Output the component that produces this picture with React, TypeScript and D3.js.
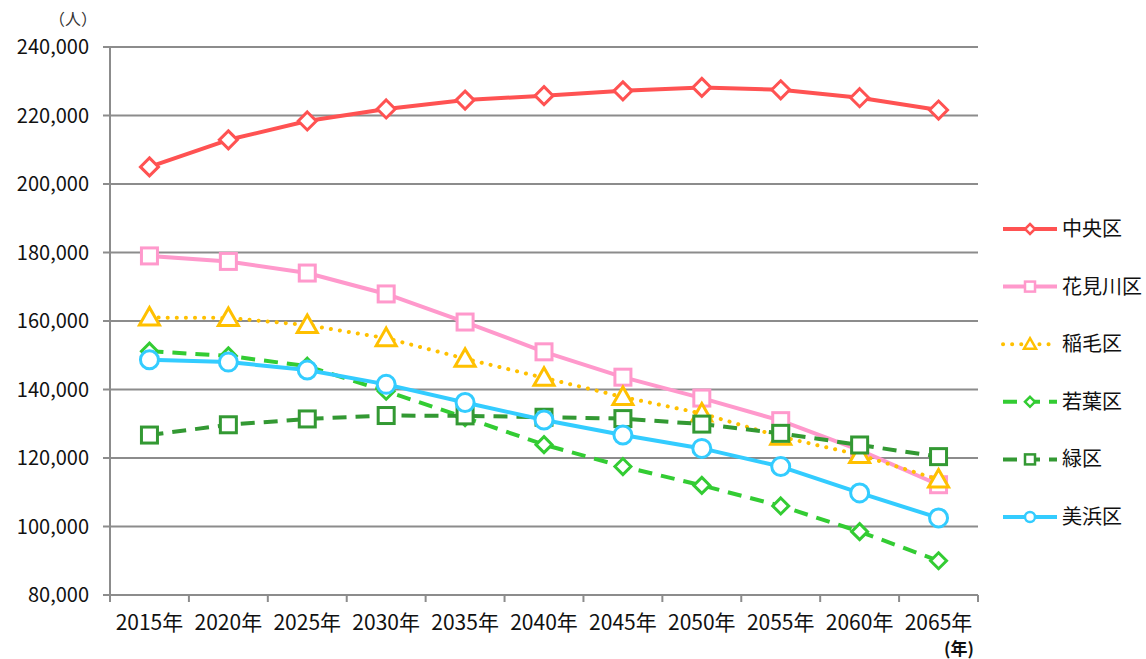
import * as d3 from "d3";

const WIDTH = 1146;
const HEIGHT = 659;
const MARGIN = { top: 47, right: 168, bottom: 64, left: 110 };
const FONT = "'Noto Sans CJK JP', 'Noto Sans', sans-serif";

const years = ["2015年", "2020年", "2025年", "2030年", "2035年", "2040年", "2045年", "2050年", "2055年", "2060年", "2065年"];
const yTicks = [80000, 100000, 120000, 140000, 160000, 180000, 200000, 220000, 240000];

const chuo = [205000, 212900, 218400, 221900, 224500, 225800, 227200, 228200, 227500, 225200, 221600];
const hanamigawa = [179000, 177400, 174000, 167900, 159700, 151000, 143600, 137500, 130900, 122300, 112200];
const inage = [161000, 160900, 158800, 155000, 149000, 143400, 137800, 133000, 126200, 120900, 113700];
const wakaba = [151200, 149800, 146800, 139500, 131800, 123900, 117500, 112000, 106000, 98500, 90000];
const midori = [126700, 129700, 131400, 132400, 132300, 131900, 131500, 129900, 127200, 123800, 120400];
const mihama = [148700, 148000, 145700, 141500, 136200, 131100, 126700, 122800, 117500, 109800, 102500];

type Marker = "diamond" | "square" | "triangle" | "circle";
type Series = { name: string; values: number[]; color: string; dash: string; marker: Marker; size: number; cap: "round" | "butt" };

const series: Series[] = [
  { name: "中央区", values: chuo, color: "#FF5252", dash: "", marker: "diamond", size: 9, cap: "butt" },
  { name: "花見川区", values: hanamigawa, color: "#FF99CC", dash: "", marker: "square", size: 8, cap: "butt" },
  { name: "稲毛区", values: inage, color: "#FFC000", dash: "0.1 9", marker: "triangle", size: 10, cap: "round" },
  { name: "若葉区", values: wakaba, color: "#33CC33", dash: "14 9", marker: "diamond", size: 8, cap: "butt" },
  { name: "緑区", values: midori, color: "#339933", dash: "14 9", marker: "square", size: 8, cap: "butt" },
  { name: "美浜区", values: mihama, color: "#33CCFF", dash: "", marker: "circle", size: 9, cap: "butt" },
];

function MarkerShape({ type, x, y, s, color, sw }: { type: Marker; x: number; y: number; s: number; color: string; sw: number }) {
  if (type === "circle") return <circle cx={x} cy={y} r={s} fill="#fff" stroke={color} strokeWidth={sw} />;
  if (type === "square")
    return <rect x={x - s} y={y - s} width={s * 2} height={s * 2} fill="#fff" stroke={color} strokeWidth={sw} />;
  if (type === "diamond")
    return (
      <path d={`M${x},${y - s}L${x + s},${y}L${x},${y + s}L${x - s},${y}Z`} fill="#fff" stroke={color} strokeWidth={sw} />
    );
  return (
    <path
      d={`M${x},${y - s}L${x + s},${y + s * 0.75}L${x - s},${y + s * 0.75}Z`}
      fill="#fff"
      stroke={color}
      strokeWidth={sw}
      strokeLinejoin="miter"
    />
  );
}

export default function App() {
  const x = d3
    .scaleBand<string>()
    .domain(years)
    .range([MARGIN.left, WIDTH - MARGIN.right]);
  const y = d3
    .scaleLinear()
    .domain([80000, 240000])
    .range([HEIGHT - MARGIN.bottom, MARGIN.top]);

  const line = d3
    .line<number>()
    .x((_, i) => (x(years[i]) ?? 0) + x.bandwidth() / 2)
    .y((d) => y(d));

  const fmt = d3.format(",");
  const x0 = MARGIN.left;
  const x1 = WIDTH - MARGIN.right;
  const yBottom = HEIGHT - MARGIN.bottom;
  const axisColor = "#8c8c8c";

  const legendY = d3.scalePoint<string>().domain(series.map((s) => s.name)).range([229, 517]);

  return (
    <svg width={WIDTH} height={HEIGHT} style={{ position: "absolute", left: 0, top: 0, fontFamily: FONT }}>
      <rect width={WIDTH} height={HEIGHT} fill="#fff" />
      {yTicks.map((t) => (
        <g key={t}>
          <line x1={x0 - 7} x2={x1} y1={y(t)} y2={y(t)} stroke={axisColor} strokeWidth={2} />
          <text x={89} y={y(t)} dy="0.35em" textAnchor="end" fontSize={20} fill="#111">
            {fmt(t)}
          </text>
        </g>
      ))}
      <line x1={x0} x2={x0} y1={MARGIN.top} y2={yBottom} stroke={axisColor} strokeWidth={2} />
      {[...years.map((yr) => x(yr) ?? 0), x1].map((px, i) => (
        <line key={i} x1={px} x2={px} y1={yBottom} y2={yBottom + 7} stroke={axisColor} strokeWidth={2} />
      ))}
      {years.map((yr) => (
        <text key={yr} x={(x(yr) ?? 0) + x.bandwidth() / 2} y={630} textAnchor="middle" fontSize={21} fill="#111">
          {yr}
        </text>
      ))}
      <text x={73} y={25} textAnchor="middle" fontSize={16} fill="#333">
        （人）
      </text>
      <text x={959} y={655} textAnchor="middle" fontSize={17} fontWeight="bold" fill="#111">
        (年)
      </text>

      {series.map((s) => (
        <g key={s.name}>
          <path
            d={line(s.values) ?? ""}
            fill="none"
            stroke={s.color}
            strokeWidth={4}
            strokeDasharray={s.dash}
            strokeLinecap={s.cap}
            strokeLinejoin="round"
          />
          {s.values.map((v, i) => (
            <MarkerShape
              key={i}
              type={s.marker}
              x={(x(years[i]) ?? 0) + x.bandwidth() / 2}
              y={y(v)}
              s={s.size}
              color={s.color}
              sw={3}
            />
          ))}
        </g>
      ))}

      {series.map((s) => {
        const ly = legendY(s.name) ?? 0;
        return (
          <g key={s.name}>
            <line
              x1={1003}
              x2={1057}
              y1={ly}
              y2={ly}
              stroke={s.color}
              strokeWidth={4}
              strokeDasharray={s.dash}
              strokeLinecap={s.cap}
            />
            <MarkerShape type={s.marker} x={1030} y={ly} s={s.marker === "triangle" ? 6 : 5} color={s.color} sw={2.5} />
            <text x={1062} y={ly} dy="0.35em" fontSize={20} fill="#111">
              {s.name}
            </text>
          </g>
        );
      })}
    </svg>
  );
}
